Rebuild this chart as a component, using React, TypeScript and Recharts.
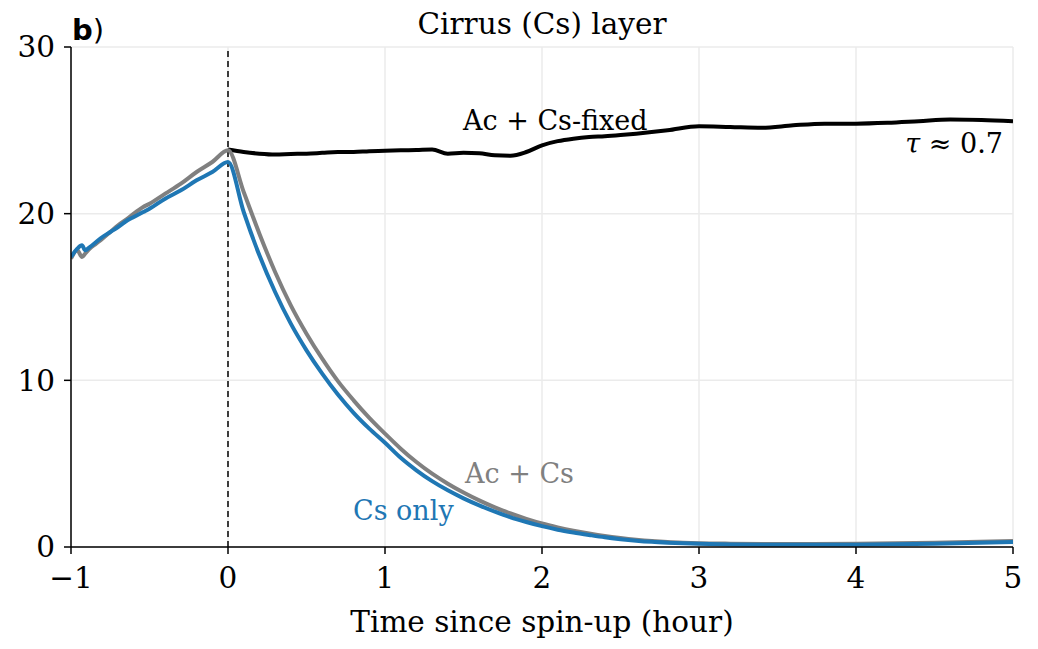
import { CartesianGrid, Line, LineChart, ReferenceLine, XAxis, YAxis } from "recharts";

// before spin-up (hours, both runs share the warm-up)
const preTimes = [-1.0, -0.96, -0.93, -0.91, -0.88, -0.84, -0.8, -0.75, -0.7, -0.64, -0.6, -0.54, -0.5, -0.4, -0.3, -0.2, -0.1];
const preCsOnly = [17.4, 17.9, 18.1, 17.8, 18.0, 18.3, 18.6, 18.9, 19.2, 19.6, 19.8, 20.1, 20.3, 20.9, 21.4, 22.0, 22.5];
const preAcCs = [17.3, 17.8, 17.4, 17.6, 17.9, 18.2, 18.5, 18.9, 19.3, 19.7, 20.0, 20.4, 20.6, 21.2, 21.8, 22.5, 23.1];

// after spin-up
const decayTimes = [0, 0.1, 0.2, 0.3, 0.4, 0.5, 0.6, 0.7, 0.8, 0.9, 1.0, 1.1, 1.2, 1.3, 1.4, 1.5, 1.6, 1.7, 1.8, 1.9, 2.0, 2.1, 2.2, 2.3, 2.4, 2.5, 2.6, 2.7, 2.8, 2.9, 3.0, 3.2, 3.5, 4.0, 4.5, 5.0];
const csOnly = [23.1, 20.1, 17.5, 15.3, 13.4, 11.8, 10.4, 9.15, 8.05, 7.1, 6.25, 5.35, 4.6, 3.95, 3.4, 2.92, 2.5, 2.12, 1.78, 1.5, 1.25, 1.04, 0.87, 0.72, 0.58, 0.47, 0.38, 0.31, 0.26, 0.22, 0.19, 0.15, 0.13, 0.14, 0.2, 0.3];
const acCs = [23.8, 21.3, 18.8, 16.5, 14.5, 12.8, 11.3, 9.95, 8.8, 7.75, 6.8, 5.9, 5.1, 4.4, 3.8, 3.27, 2.8, 2.38, 2.01, 1.69, 1.41, 1.18, 0.98, 0.81, 0.66, 0.54, 0.44, 0.36, 0.3, 0.26, 0.23, 0.2, 0.18, 0.19, 0.25, 0.36];

const fixedTimes = [0, 0.1, 0.2, 0.3, 0.4, 0.5, 0.6, 0.7, 0.8, 0.9, 1.0, 1.1, 1.2, 1.3, 1.4, 1.5, 1.6, 1.7, 1.8, 1.9, 2.0, 2.1, 2.2, 2.3, 2.4, 2.5, 2.6, 2.8, 3.0, 3.2, 3.4, 3.6, 3.8, 4.0, 4.2, 4.4, 4.6, 4.8, 5.0];
const acCsFixed = [23.85, 23.7, 23.6, 23.55, 23.58, 23.6, 23.65, 23.7, 23.7, 23.75, 23.77, 23.8, 23.82, 23.85, 23.6, 23.65, 23.62, 23.5, 23.48, 23.7, 24.1, 24.35, 24.5, 24.6, 24.65, 24.72, 24.8, 25.0, 25.25, 25.2, 25.15, 25.3, 25.4, 25.4, 25.45, 25.55, 25.65, 25.62, 25.55];

const xTicks = [-1, 0, 1, 2, 3, 4, 5];
const yTicks = [0, 10, 20, 30];

const toRows = (ts: number[], vs: number[]) => ts.map((t, i) => ({ t, v: vs[i] }));

const csOnlyData = [...toRows(preTimes, preCsOnly), ...toRows(decayTimes, csOnly)];
const acCsData = [...toRows(preTimes, preAcCs), ...toRows(decayTimes, acCs)];
const fixedData = toRows(fixedTimes, acCsFixed);

const serif = "'DejaVu Serif', serif";
const W = 1022;
const H = 633;

export default function App() {
  const tick = { fill: "#000", fontSize: 29.5, fontFamily: serif };
  const axisStroke = { stroke: "#000", strokeWidth: 1.5 };
  return (
    <div style={{ position: "relative", width: W, height: H }}>
      <LineChart width={W} height={H} margin={{ top: 39, right: 17, left: 0, bottom: 0 }}>
        <CartesianGrid stroke="#ebebeb" strokeWidth={1.5} />
        <XAxis
          dataKey="t"
          type="number"
          domain={[-1, 5]}
          ticks={xTicks}
          allowDataOverflow
          height={94}
          tick={tick}
          tickSize={7}
          tickMargin={13}
          tickFormatter={(v: number) => (v < 0 ? `\u2212${-v}` : `${v}`)}
          axisLine={axisStroke}
          tickLine={axisStroke}
        />
        <YAxis
          type="number"
          domain={[0, 30]}
          ticks={yTicks}
          allowDataOverflow
          width={63}
          tick={tick}
          tickSize={7}
          tickMargin={9}
          axisLine={axisStroke}
          tickLine={axisStroke}
        />
        <ReferenceLine x={0} stroke="#000" strokeWidth={1.5} strokeDasharray="6 4" />
        <Line data={fixedData} dataKey="v" type="monotone" stroke="#000" strokeWidth={4} dot={false} isAnimationActive={false} />
        <Line data={acCsData} dataKey="v" type="monotone" stroke="#808080" strokeWidth={4} dot={false} isAnimationActive={false} />
        <Line data={csOnlyData} dataKey="v" type="monotone" stroke="#1f77b4" strokeWidth={4} dot={false} isAnimationActive={false} />
      </LineChart>
      <svg width={W} height={H} style={{ position: "absolute", left: 0, top: 0, pointerEvents: "none" }}>
        <text x={64} y={32} fontFamily="'DejaVu Sans', sans-serif" fontSize={29}>
          <tspan fontWeight="bold">b</tspan>
          <tspan>)</tspan>
        </text>
        <text x={534} y={26} textAnchor="middle" fontFamily={serif} fontSize={29.5}>Cirrus (Cs) layer</text>
        <text x={455} y={122} fontFamily={serif} fontSize={27}>Ac + Cs-fixed</text>
        <text x={995} y={145} textAnchor="end" fontFamily={serif} fontSize={27}>
          <tspan fontStyle="italic">τ</tspan> ≈ 0.7
        </text>
        <text x={457} y={475} fontFamily={serif} fontSize={27} fill="#808080">Ac + Cs</text>
        <text x={345} y={512} fontFamily={serif} fontSize={27} fill="#1f77b4">Cs only</text>
        <text x={534} y={624} textAnchor="middle" fontFamily={serif} fontSize={29.5}>Time since spin-up (hour)</text>
      </svg>
    </div>
  );
}
